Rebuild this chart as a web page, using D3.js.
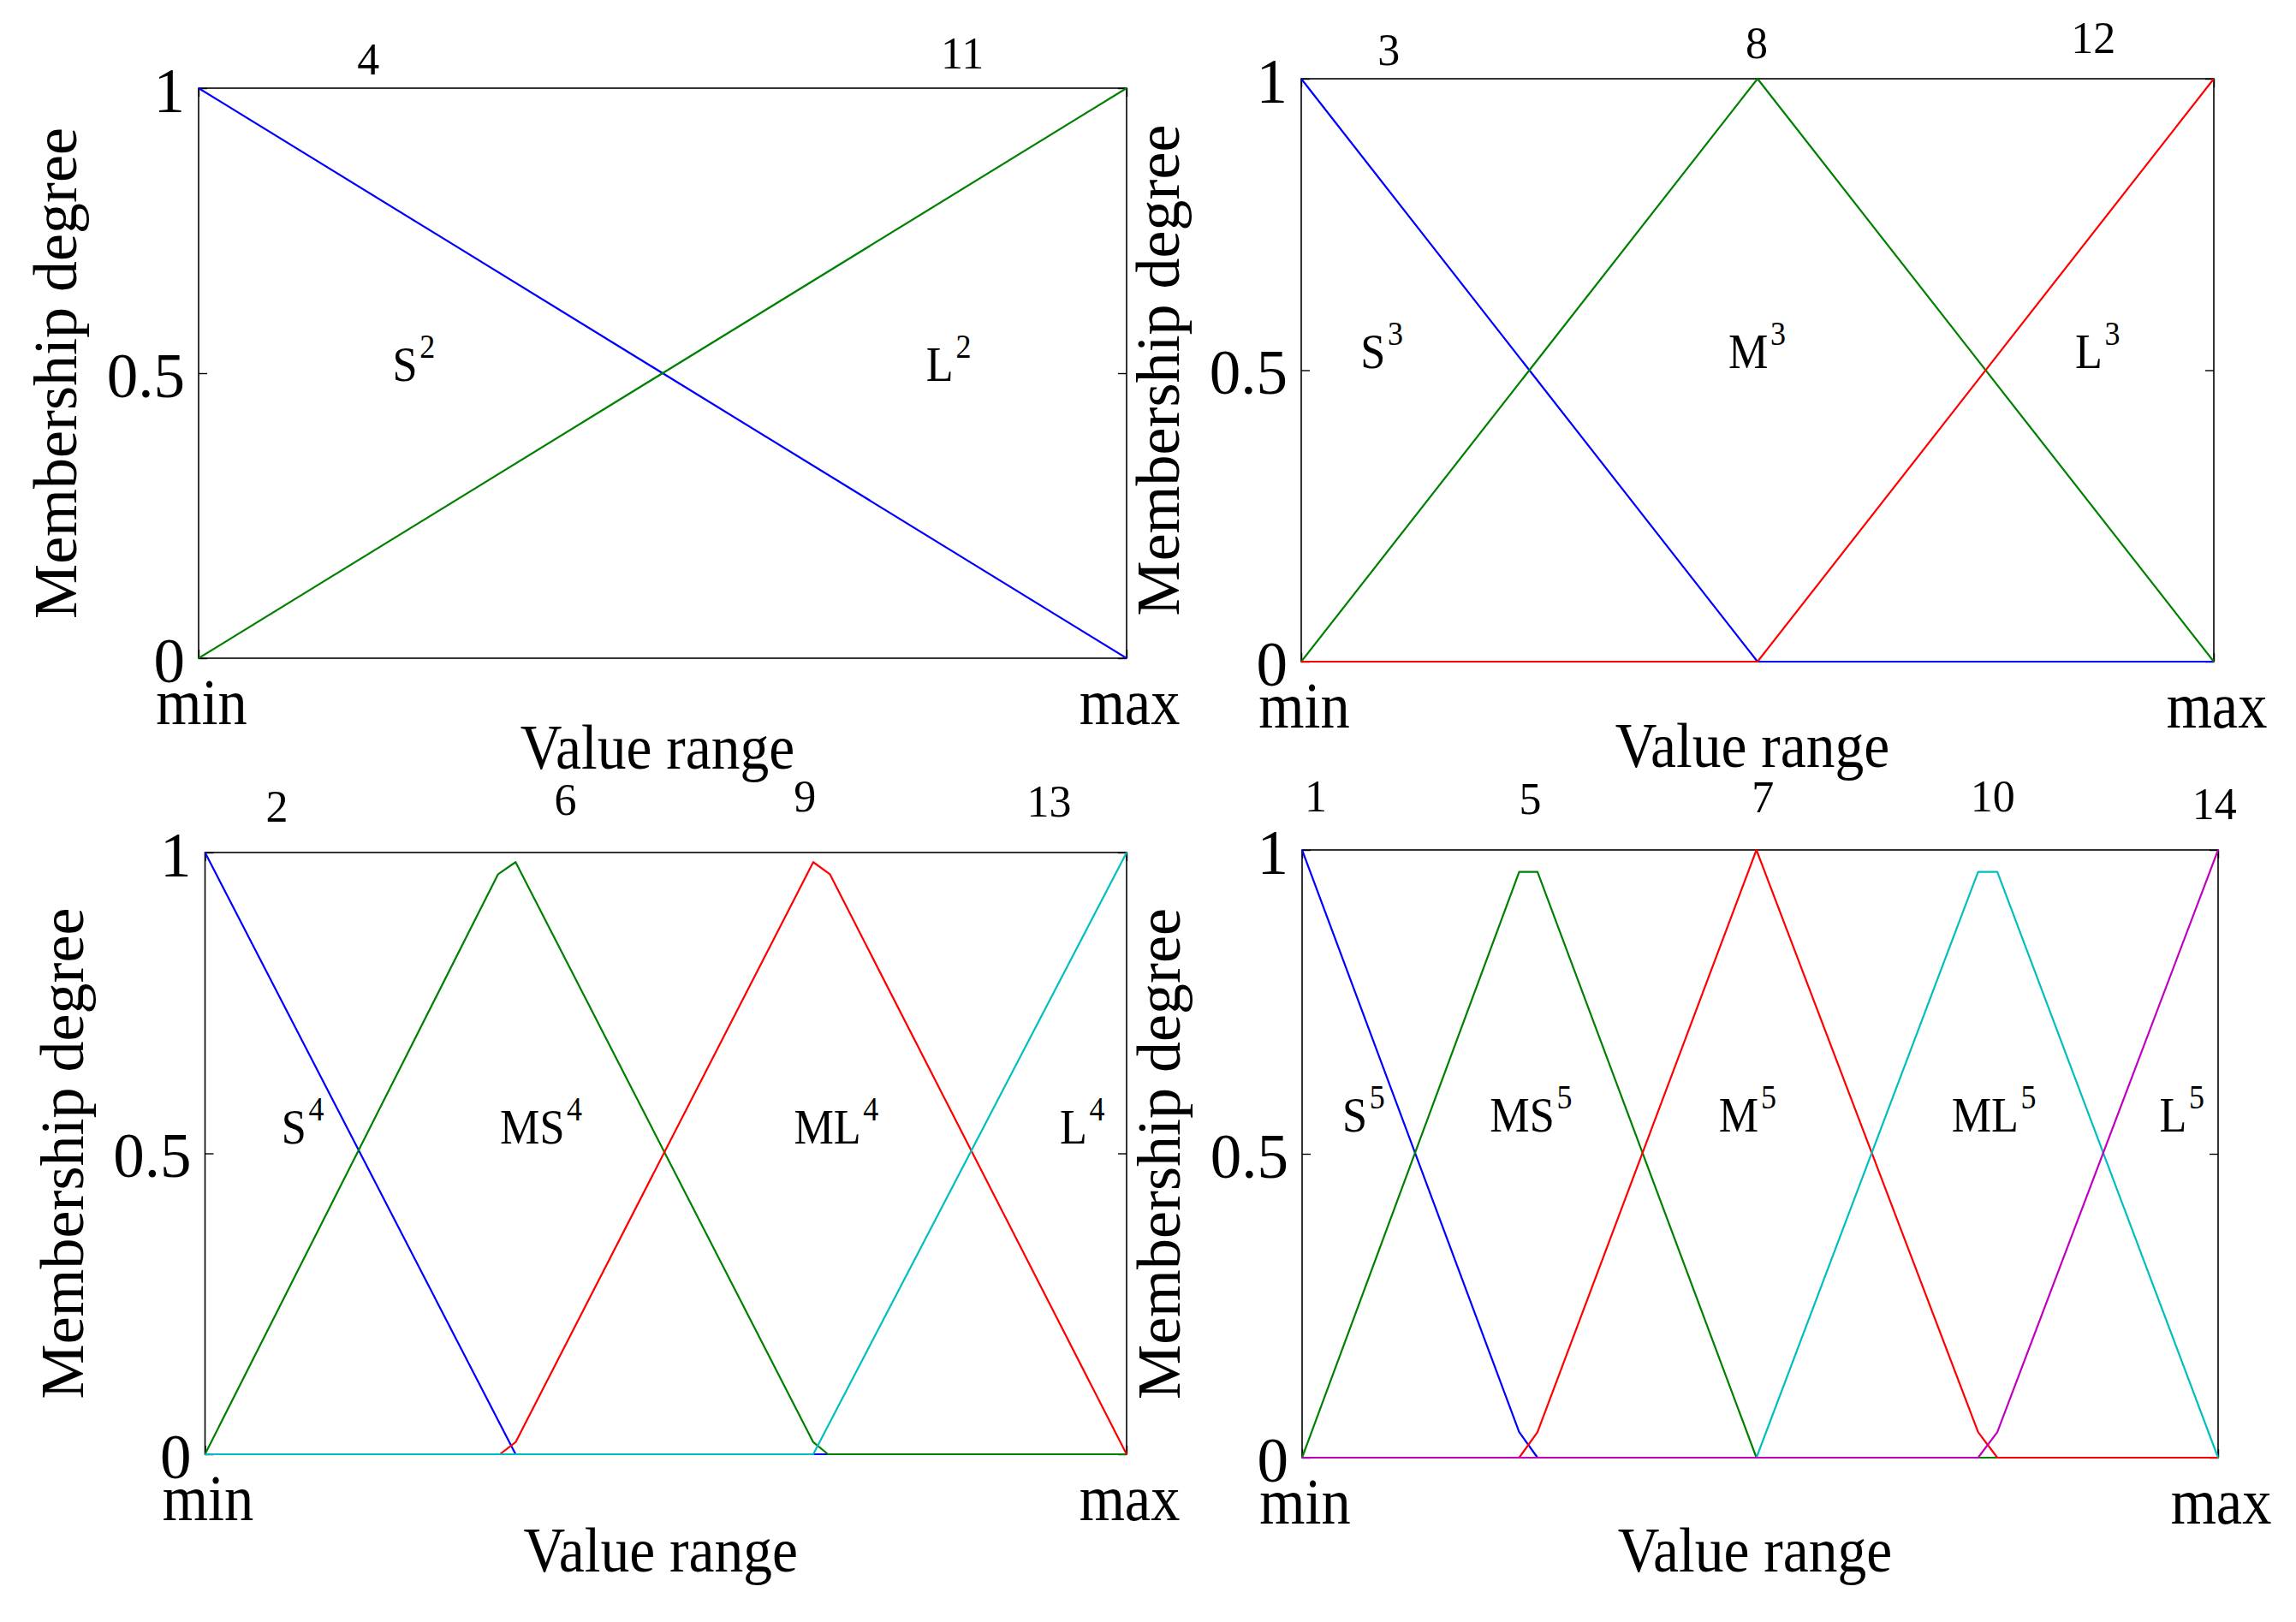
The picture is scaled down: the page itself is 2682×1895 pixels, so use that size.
<!DOCTYPE html>
<html><head><meta charset="utf-8">
<script src="https://cdn.jsdelivr.net/npm/d3@7"></script>
<style>
html,body{margin:0;padding:0;background:#fff;}
svg{display:block;}
text{font-family:"Liberation Serif","Times New Roman",serif;fill:#000;}
</style>
</head><body>
<svg id="chart" width="2682" height="1895"></svg>
<script>
// ---------------- data ----------------
const yTickValues = [0, 0.5, 1];
const yTickLabels = ["0", "0.5", "1"];
const xTickValues = [0, 1];
const xTickLabels = ["min", "max"];
const yTitle = "Membership degree";
const xTitle = "Value range";

// two fuzzy sets
const setNames2 = ["S", "L"];
const setIds2 = ["4", "11"];
const S2 = [[0, 1], [1, 0]];
const L2 = [[0, 0], [1, 1]];

// three fuzzy sets
const setNames3 = ["S", "M", "L"];
const setIds3 = ["3", "8", "12"];
const S3 = [[0, 1], [0.5, 0], [1, 0]];
const M3 = [[0, 0], [0.5, 1], [1, 0]];
const L3 = [[0, 0], [0.5, 0], [1, 1]];

// four fuzzy sets
const setNames4 = ["S", "MS", "ML", "L"];
const setIds4 = ["2", "6", "9", "13"];
const S4 = [[0, 1], [0.337, 0], [1, 0]];
const MS4 = [[0, 0], [0.318, 0.964], [0.337, 0.984], [0.66, 0.02], [0.676, 0], [1, 0]];
const ML4 = [[0, 0], [0.32, 0], [0.337, 0.02], [0.66, 0.984], [0.678, 0.964], [1, 0]];
const L4 = [[0, 0], [0.66, 0], [1, 1]];

// five fuzzy sets
const setNames5 = ["S", "MS", "M", "ML", "L"];
const setIds5 = ["1", "5", "7", "10", "14"];
const S5 = [[0, 1], [0.237, 0.042], [0.257, 0], [1, 0]];
const MS5 = [[0, 0], [0.237, 0.964], [0.257, 0.964], [0.496, 0], [1, 0]];
const M5 = [[0, 0], [0.237, 0], [0.257, 0.042], [0.496, 1], [0.738, 0.042], [0.759, 0], [1, 0]];
const ML5 = [[0, 0], [0.496, 0], [0.738, 0.964], [0.759, 0.964], [1, 0]];
const L5 = [[0, 0], [0.738, 0], [0.759, 0.042], [1, 1]];

// ---------------- layout & style ----------------
const lineColors = ["#0000ff", "#008000", "#ff0000", "#00bfbf", "#bf00bf"];
const panels = [
  {box: [232, 103, 1316, 769], series: [S2, L2], names: setNames2, sup: "2", ids: setIds2,
   idX: [0.183, 0.823], idBase: [87, 80], labX: [0.209, 0.784], labY: 0.486, titleY: 898},
  {box: [1520, 92, 2586, 773], series: [S3, M3, L3], names: setNames3, sup: "3", ids: setIds3,
   idX: [0.096, 0.499, 0.868], idBase: [76, 68, 62], labX: [0.065, 0.468, 0.848], labY: 0.504, titleY: 896},
  {box: [239.5, 996, 1316, 1699], series: [S4, MS4, ML4, L4], names: setNames4, sup: "4", ids: setIds4,
   idX: [0.078, 0.391, 0.651, 0.916], idBase: [960, 952, 948, 954], labX: [0.083, 0.32, 0.639, 0.9275], labY: 0.516, titleY: 1836},
  {box: [1521, 993, 2591, 1703], series: [S5, MS5, M5, ML5, L5], names: setNames5, sup: "5", ids: setIds5,
   idX: [0.0149, 0.249, 0.503, 0.754, 0.996], idBase: [948, 951, 949, 948, 957], labX: [0.044, 0.205, 0.455, 0.709, 0.936], labY: 0.537, titleY: 1836}
];

const svg = d3.select("#chart");
svg.append("rect").attr("width", 2682).attr("height", 1895).attr("fill", "#fff");

panels.forEach(p => {
  const [L, T, R, B] = p.box;
  const x = d3.scaleLinear().domain([0, 1]).range([L, R]);
  const y = d3.scaleLinear().domain([0, 1]).range([B, T]);
  const g = svg.append("g");

  // box
  g.append("rect").attr("x", L).attr("y", T).attr("width", R - L).attr("height", B - T)
    .attr("fill", "none").attr("stroke", "#000").attr("stroke-width", 1.6);

  // left axis with labels
  const ya = g.append("g").attr("transform", `translate(${L},0)`)
    .call(d3.axisLeft(y).tickValues(yTickValues).tickFormat((d, i) => yTickLabels[i])
      .tickSizeInner(-10).tickSizeOuter(0).tickPadding(16));
  ya.select(".domain").remove();
  ya.selectAll("line").attr("stroke", "#000").attr("stroke-width", 1.4);
  ya.selectAll("text").attr("font-size", 73).attr("dy", "0.37em")
    .attr("font-family", "Liberation Serif");

  // right axis ticks
  const yr = g.append("g").attr("transform", `translate(${R},0)`)
    .call(d3.axisRight(y).tickValues(yTickValues).tickFormat("").tickSizeInner(-10).tickSizeOuter(0));
  yr.select(".domain").remove();
  yr.selectAll("line").attr("stroke", "#000").attr("stroke-width", 1.4);

  // bottom axis min/max
  const xa = g.append("g").attr("transform", `translate(0,${B})`)
    .call(d3.axisBottom(x).tickValues(xTickValues).tickFormat((d, i) => xTickLabels[i])
      .tickSizeInner(-10).tickSizeOuter(0).tickPadding(23));
  xa.select(".domain").remove();
  xa.selectAll("line").attr("stroke", "#000").attr("stroke-width", 1.4);
  xa.selectAll("text").attr("font-size", 76).attr("font-family", "Liberation Serif")
    .attr("transform", "translate(3,0) scale(0.9,1)");

  // top axis ticks
  const xt = g.append("g").attr("transform", `translate(0,${T})`)
    .call(d3.axisTop(x).tickValues(xTickValues).tickFormat("").tickSizeInner(-10).tickSizeOuter(0));
  xt.select(".domain").remove();
  xt.selectAll("line").attr("stroke", "#000").attr("stroke-width", 1.4);

  // series
  const line = d3.line().x(d => x(d[0])).y(d => y(d[1]));
  p.series.forEach((s, i) => {
    g.append("path").attr("d", line(s)).attr("fill", "none")
      .attr("stroke", lineColors[i]).attr("stroke-width", 2.2)
      .attr("stroke-linejoin", "round");
  });

  // set labels
  p.names.forEach((n, i) => {
    const t = g.append("text")
      .attr("transform", `translate(${x(p.labX[i])},${y(p.labY)}) scale(0.9,1)`)
      .attr("font-size", 58);
    t.append("tspan").text(n);
    t.append("tspan").attr("font-size", 40).attr("dx", 3).attr("dy", -27).text(p.sup);
  });

  // index labels above
  p.ids.forEach((s, i) => {
    g.append("text").attr("x", x(p.idX[i])).attr("y", p.idBase[i])
      .attr("text-anchor", "middle").attr("font-size", 52).text(s);
  });

  // axis titles
  g.append("text")
    .attr("transform", `translate(${(L + R) / 2 - 6},${p.titleY}) scale(0.9,1)`)
    .attr("text-anchor", "middle").attr("font-size", 75).text(xTitle);
  g.append("text")
    .attr("transform", `translate(${L - 143},${(T + B) / 2}) rotate(-90)`)
    .attr("text-anchor", "middle").attr("font-size", 72).text(yTitle);
});
</script>
</body></html>
